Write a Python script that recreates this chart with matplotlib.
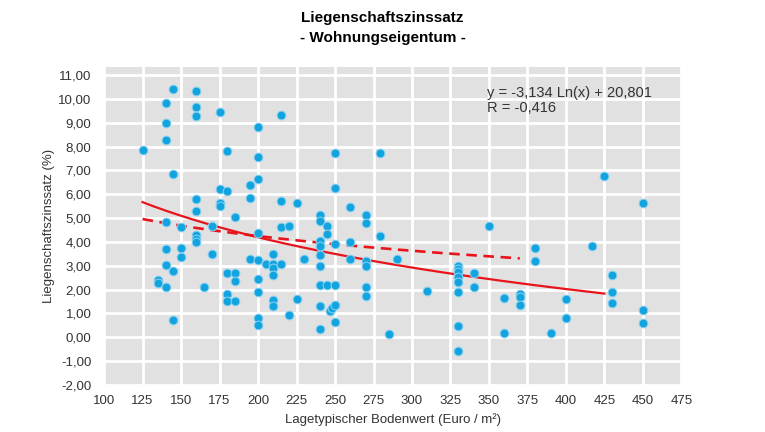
import numpy as np
import matplotlib.pyplot as plt
from matplotlib.ticker import FuncFormatter

plt.rcParams['font.family'] = ['Liberation Sans', 'DejaVu Sans']

# Bodenwert (Euro / m²) und Liegenschaftszinssatz (%)
bodenwert = [
    125,
    135, 135,
    140, 140, 140, 140, 140, 140, 140,
    145, 145, 145, 145,
    150, 150, 150,
    160, 160, 160, 160, 160, 160, 160, 160,
    165,
    170, 170,
    175, 175, 175, 175,
    180, 180, 180, 180, 180,
    185, 185, 185, 185,
    195, 195, 195,
    200, 200, 200, 200, 200, 200, 200, 200, 200,
    205,
    210, 210, 210, 210, 210, 210,
    215, 215, 215, 215,
    220, 220,
    225, 225,
    230,
    240, 240, 240, 240, 240, 240, 240, 240, 240,
    245, 245, 245,
    247, 248,
    250, 250, 250, 250, 250, 250,
    260, 260, 260,
    270, 270, 270, 270, 270, 270,
    279, 279,
    285,
    290,
    310,
    330, 330, 330, 330, 330, 330, 330, 330,
    340, 340,
    350,
    360, 360,
    370, 370, 370,
    380, 380,
    390,
    400, 400,
    417,
    425,
    430, 430, 430,
    450, 450, 450,
]
zinssatz = [
    7.84,
    2.40, 2.29,
    9.81, 9.00, 8.27, 4.85, 3.72, 3.03, 2.11,
    10.40, 6.84, 2.78, 0.73,
    4.64, 3.75, 3.37,
    10.32, 9.67, 9.30, 5.79, 5.30, 4.28, 4.14, 4.00,
    2.11,
    4.66, 3.48,
    9.46, 6.22, 5.65, 5.52,
    7.83, 6.14, 2.71, 1.82, 1.52,
    5.05, 2.69, 2.36, 1.52,
    6.39, 5.83, 3.28,
    8.83, 7.55, 6.63, 4.36, 3.24, 2.43, 1.91, 0.82, 0.52,
    3.06,
    3.48, 3.08, 2.90, 2.61, 1.57, 1.31,
    9.34, 5.72, 4.61, 3.07,
    4.68, 0.94,
    5.65, 1.60,
    3.27,
    5.13, 4.86, 4.06, 3.84, 3.45, 2.99, 2.20, 1.31, 0.34,
    4.67, 4.35, 2.20,
    1.10, 1.22,
    7.72, 6.26, 3.90, 2.20, 1.36, 0.64,
    5.48, 4.00, 3.27,
    5.13, 4.81, 3.22, 2.99, 2.10, 1.74,
    7.72, 4.26,
    0.14,
    3.27,
    1.94,
    3.00, 2.86, 2.72, 2.54, 2.31, 1.89, 0.48, -0.57,
    2.71, 2.09,
    4.68,
    1.64, 0.19,
    1.82, 1.70, 1.36,
    3.73, 3.21,
    0.19,
    1.60, 0.82,
    3.83,
    6.78,
    2.61, 1.89, 1.43,
    5.62, 1.15, 0.59,
]

# Trendlinien: y = a * ln(x) + b
trend_a, trend_b = -3.134, 20.801
trend_range = (125, 425)
vorjahr_a, vorjahr_b = -1.52, 12.30
vorjahr_range = (125, 370)

xticks = list(range(100, 476, 25))
yticks = list(range(-2, 12))

fig = plt.figure(figsize=(7.65, 4.32), dpi=100)
ax = fig.add_axes([0.136, 0.1088, 0.7548, 0.7368])
ax.set_facecolor('#e1e1e1')
for s in ax.spines.values():
    s.set_visible(False)

ax.set_xlim(100, 475)
ax.set_ylim(-2, 11.35)
ax.set_xticks(xticks)
ax.set_yticks(yticks)
ax.grid(True, color='white', linewidth=2.0)
ax.set_axisbelow(True)
ax.tick_params(length=0, labelsize=9.5, labelcolor='#333333')
ax.tick_params(axis='y', pad=9)
ax.tick_params(axis='x', pad=7)
ax.yaxis.set_major_formatter(FuncFormatter(lambda v, p: f"{v:.2f}".replace('.', ',')))

xs = np.linspace(*trend_range, 200)
ax.plot(xs, trend_a * np.log(xs) + trend_b, color='#e8131b', lw=1.6, zorder=2)
xd = np.linspace(*vorjahr_range, 200)
ax.plot(xd, vorjahr_a * np.log(xd) + vorjahr_b, color='#e8131b', lw=1.9,
        ls=(0, (4, 2.5)), zorder=2)

ax.scatter(bodenwert, zinssatz, s=40, color='#13a3de', edgecolors='#8dd3f2',
           linewidths=0.7, zorder=3)

ax.text(349, 10.55, "y = -3,134 Ln(x) + 20,801\nR = -0,416", fontsize=10.5,
        color='#333333', va='top', ha='left', linespacing=1.1)

fig.text(0.5, 0.958, "Liegenschaftszinssatz", ha='center', va='center',
         fontsize=11, fontweight='bold')
fig.text(0.5, 0.911, "- Wohnungseigentum -", ha='center', va='center',
         fontsize=11, fontweight='bold')

ax.set_xlabel("Lagetypischer Bodenwert (Euro / m²)", fontsize=9.5, color='#333333', labelpad=5)
ax.set_ylabel("Liegenschaftszinssatz (%)", fontsize=9.5, color='#333333')
ax.yaxis.set_label_coords(-0.085, 0.5)

fig.savefig("out.png", dpi=100)
